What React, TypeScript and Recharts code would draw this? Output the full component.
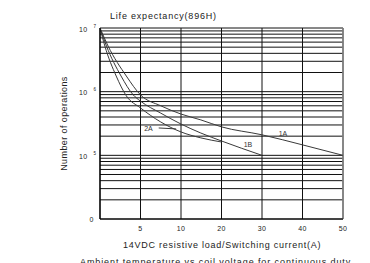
import { CartesianGrid, Line, LineChart, ReferenceLine, XAxis, YAxis } from "recharts";

// switching current ticks (A) – drawn evenly spaced like the datasheet
const currentTicks = [0, 5, 10, 20, 30, 40, 50];
const cycleTicks = [
  1e4, 2e4, 3e4, 4e4, 5e4, 6e4, 7e4, 8e4, 9e4,
  1e5, 2e5, 3e5, 4e5, 5e5, 6e5, 7e5, 8e5, 9e5,
  1e6, 2e6, 3e6, 4e6, 5e6, 6e6, 7e6, 8e6, 9e6,
  1e7,
];

const current1A = [0, 1, 3.25, 5, 7.5, 10, 14.9, 20, 30, 40, 50];
const cycles1A = [1e7, 5.2e6, 1.76e6, 8.9e5, 6.0e5, 4.45e5, 3.6e5, 2.8e5, 2.1e5, 1.46e5, 1e5];

const current1B = [0, 0.8, 2.6, 4.1, 5, 7.5, 10, 14.9, 20, 30];
const cycles1B = [1e7, 5.2e6, 1.76e6, 8.9e5, 7.1e5, 4.6e5, 3.1e5, 2.24e5, 1.68e5, 1e5];

const current2A = [0, 0.6, 2, 3.25, 5, 7.5, 10, 14.9, 20];
const cycles2A = [1e7, 5.2e6, 1.76e6, 8.6e5, 5.55e5, 3.34e5, 2.33e5, 1.88e5, 1.62e5];

// leader line from the "2A" tag
const leader2ACurrent = [7.25, 9.4];
const leader2ACycles = [2.69e5, 2.6e5];

const FONT = "'Liberation Sans', Arial, sans-serif";

// map a current onto the evenly spaced tick index axis
function tickPos(a: number) {
  for (let i = 1; i < currentTicks.length; i++) {
    if (a <= currentTicks[i]) {
      const lo = currentTicks[i - 1];
      const hi = currentTicks[i];
      return i - 1 + (a - lo) / (hi - lo);
    }
  }
  return currentTicks.length - 1;
}

const toRows = (cur: number[], cyc: number[]) => cur.map((a, i) => ({ pos: tickPos(a), n: cyc[i] }));

const data1A = toRows(current1A, cycles1A);
const data1B = toRows(current1B, cycles1B);
const data2A = toRows(current2A, cycles2A);

function CurrentTick({ x, y, payload }: any) {
  const label = currentTicks[Math.round(payload.value)];
  if (!label) return null;
  return (
    <text x={x} y={y + 11.5} textAnchor="middle" fontSize={7} fontFamily={FONT} fill="#222" letterSpacing={0.4}>
      {label}
    </text>
  );
}

function CycleTick({ x, y, payload }: any) {
  const v = payload.value as number;
  const exp = Math.round(Math.log10(v));
  if (Math.abs(v - 10 ** exp) > 1) return null;
  if (exp === 4) {
    return (
      <text x={x - 6.5} y={y + 3} textAnchor="end" fontSize={7} fontFamily={FONT} fill="#222">
        0
      </text>
    );
  }
  return (
    <g fontFamily={FONT} fill="#222">
      <text x={x - 12.5} y={y + 3.6} textAnchor="end" fontSize={7} letterSpacing={0.3}>
        10
      </text>
      <text x={x - 4} y={y - 0.5} textAnchor="end" fontSize={4.5}>
        {exp}
      </text>
    </g>
  );
}

export default function App() {
  return (
    <div style={{ position: "absolute", left: 0, top: 0, width: 370, height: 263, background: "#fff" }}>
      <LineChart width={370} height={263} margin={{ top: 28, right: 27, bottom: 24, left: 70 }}>
        <CartesianGrid stroke="#111" strokeWidth={1} />
        <XAxis
          type="number"
          dataKey="pos"
          domain={[0, currentTicks.length - 1]}
          ticks={currentTicks.map((_, i) => i)}
          height={20}
          tickSize={0}
          tickMargin={0}
          tickLine={false}
          axisLine={{ stroke: "#000", strokeWidth: 1.2 }}
          tick={<CurrentTick />}
          allowDataOverflow
        />
        <YAxis
          type="number"
          dataKey="n"
          scale="log"
          domain={[1e4, 1e7]}
          ticks={cycleTicks}
          width={30}
          tickSize={0}
          tickMargin={0}
          tickLine={false}
          axisLine={{ stroke: "#000", strokeWidth: 1.2 }}
          tick={<CycleTick />}
          interval={0}
          allowDataOverflow
        />
        <ReferenceLine x={currentTicks.length - 1} stroke="#888" strokeWidth={1.6} />
        <Line data={data1A} dataKey="n" type="monotone" stroke="#3a3a3a" strokeWidth={1} dot={false} isAnimationActive={false} />
        <Line data={data1B} dataKey="n" type="monotone" stroke="#3a3a3a" strokeWidth={1} dot={false} isAnimationActive={false} />
        <Line data={data2A} dataKey="n" type="monotone" stroke="#3a3a3a" strokeWidth={1} dot={false} isAnimationActive={false} />
        <ReferenceLine
          segment={leader2ACurrent.map((a, i) => ({ x: tickPos(a), y: leader2ACycles[i] }))}
          stroke="#3a3a3a"
          strokeWidth={1}
        />

        <g fontFamily={FONT} fill="#222">
          <text x={110} y={18.5} fontSize={9} letterSpacing={0.8}>
            Life expectancy(896H)
          </text>
          <text x={123} y={248} fontSize={9} letterSpacing={0.75}>
            14VDC resistive load/Switching current(A)
          </text>
          <text
            x={66.5}
            y={123.5}
            fontSize={9}
            letterSpacing={0.4}
            textAnchor="middle"
            transform="rotate(-90, 66.5, 123.5)"
          >
            Number of operations
          </text>
          <text x={80} y={265} fontSize={9} letterSpacing={0.9}>
            Ambient temperature vs coil voltage for continuous duty
          </text>
          <text x={283} y={135.5} fontSize={7} textAnchor="middle" fill="#333">
            1A
          </text>
          <text x={248} y={147} fontSize={7} textAnchor="middle" fill="#333">
            1B
          </text>
          <text x={148.5} y={130.5} fontSize={7} textAnchor="middle" fill="#333">
            2A
          </text>
        </g>
      </LineChart>
    </div>
  );
}
